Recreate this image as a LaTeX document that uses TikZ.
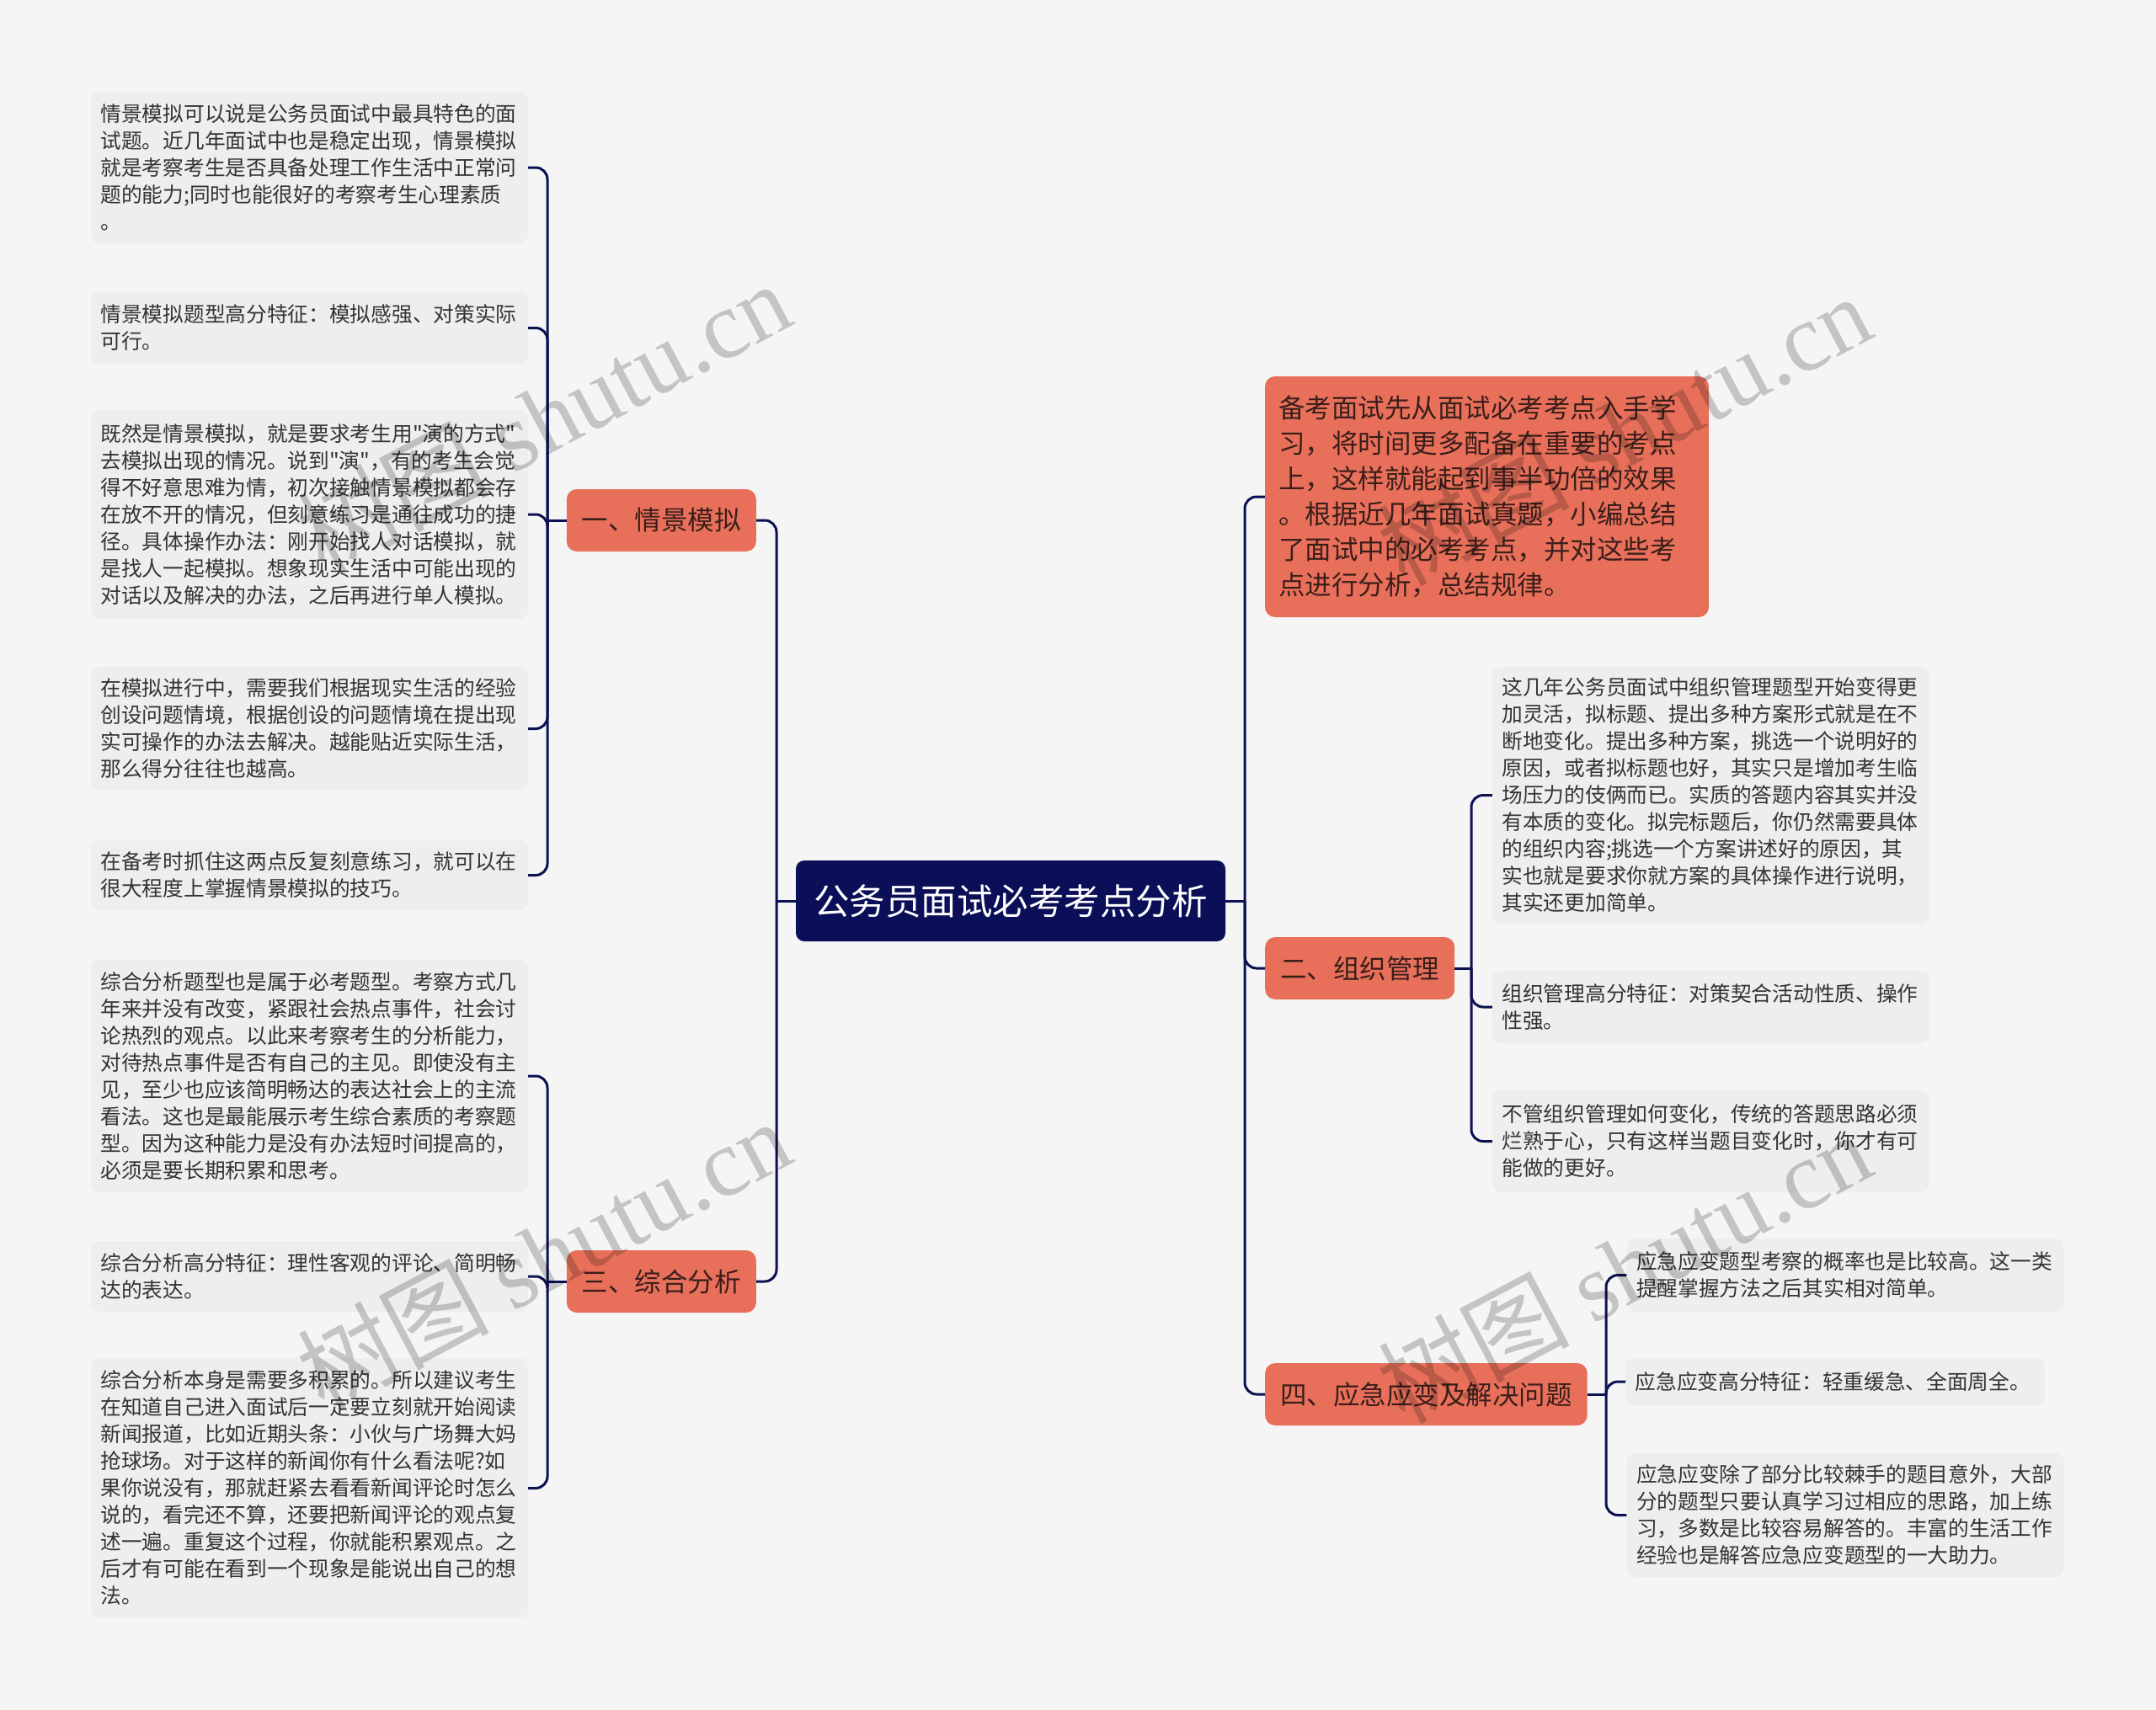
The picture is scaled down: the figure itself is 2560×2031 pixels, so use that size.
\documentclass[tikz,border=0pt]{standalone}
\usepackage{fontspec}
\setmainfont{Noto Sans CJK SC}[Ligatures=TeXOff]
\newfontfamily\wmlatin{Liberation Serif}
\definecolor{bgc}{HTML}{F5F5F5}
\definecolor{leafc}{HTML}{EEEEEE}
\definecolor{salmon}{HTML}{E8705B}
\definecolor{navy}{HTML}{0A0F58}
\definecolor{linec}{HTML}{0B1152}
\definecolor{txtc}{HTML}{333333}
\definecolor{saltxt}{HTML}{3A1E1A}
\tikzset{
  leafbox/.style={rectangle, rounded corners=10pt, fill=leafc, text=txtc, align=left,
    text width=496pt, inner xsep=11.5pt, inner ysep=0pt, font=\fontsize{24.7}{32}\selectfont},
  catbox/.style={rectangle, rounded corners=12pt, fill=salmon, text=saltxt,
    minimum height=74pt, inner xsep=18pt, inner ysep=0pt, font=\fontsize{31.5}{42}\selectfont},
  rootbox/.style={rectangle, rounded corners=10pt, fill=navy, text=white,
    minimum width=510pt, minimum height=96pt, font=\fontsize{42.5}{50}\selectfont},
  conn/.style={draw=linec, line width=3pt, rounded corners=14pt},
  wmark/.style={rotate=28, text=black, opacity=0.2, font=\fontsize{114}{120}\selectfont}
}
\begin{document}
\begin{tikzpicture}[x=1pt, y=-1pt]
\fill[bgc] (0,0) rectangle (2560,2031);
\useasboundingbox (0,0) rectangle (2560,2031);

% root
\node[rootbox] (root) at (1200,1070) {公务员面试必考考点分析};

% level 1
\node[catbox, anchor=east] (c1) at (898,618) {一、情景模拟};
\node[catbox, anchor=east] (c3) at (898,1522) {三、综合分析};
\node[catbox, anchor=west] (c2) at (1502,1150) {二、组织管理};
\node[catbox, anchor=west] (c4) at (1502,1656) {四、应急应变及解决问题};
\node[rectangle, rounded corners=12pt, fill=salmon, text=saltxt, align=left,
  text width=495pt, inner xsep=16pt, inner ysep=0pt, minimum height=286pt,
  font=\fontsize{31.5}{42}\selectfont] (sal) at (1765.5,590) {备考面试先从面试必考考点入手学\\习，将时间更多配备在重要的考点\\上，这样就能起到事半功倍的效果\\。根据近几年面试真题，小编总结\\了面试中的必考考点，并对这些考\\点进行分析，总结规律。};

% left leaves of 一
\node[leafbox, minimum height=180pt] (l1) at (367.5,199) {情景模拟可以说是公务员面试中最具特色的面\\试题。近几年面试中也是稳定出现，情景模拟\\就是考察考生是否具备处理工作生活中正常问\\题的能力;同时也能很好的考察考生心理素质\\。};
\node[leafbox, minimum height=87pt] (l2) at (367.5,389.5) {情景模拟题型高分特征：模拟感强、对策实际\\可行。};
\node[leafbox, minimum height=248pt] (l3) at (367.5,611) {既然是情景模拟，就是要求考生用"演的方式"\\去模拟出现的情况。说到"演"，有的考生会觉\\得不好意思难为情，初次接触情景模拟都会存\\在放不开的情况，但刻意练习是通往成功的捷\\径。具体操作办法：刚开始找人对话模拟，就\\是找人一起模拟。想象现实生活中可能出现的\\对话以及解决的办法，之后再进行单人模拟。};
\node[leafbox, minimum height=147pt] (l4) at (367.5,865.5) {在模拟进行中，需要我们根据现实生活的经验\\创设问题情境，根据创设的问题情境在提出现\\实可操作的办法去解决。越能贴近实际生活，\\那么得分往往也越高。};
\node[leafbox, minimum height=83pt] (l5) at (367.5,1039.5) {在备考时抓住这两点反复刻意练习，就可以在\\很大程度上掌握情景模拟的技巧。};

% left leaves of 三
\node[leafbox, minimum height=276pt] (l6) at (367.5,1278) {综合分析题型也是属于必考题型。考察方式几\\年来并没有改变，紧跟社会热点事件，社会讨\\论热烈的观点。以此来考察考生的分析能力，\\对待热点事件是否有自己的主见。即使没有主\\见，至少也应该简明畅达的表达社会上的主流\\看法。这也是最能展示考生综合素质的考察题\\型。因为这种能力是没有办法短时间提高的，\\必须是要长期积累和思考。};
\node[leafbox, minimum height=84pt] (l7) at (367.5,1516) {综合分析高分特征：理性客观的评论、简明畅\\达的表达。};
\node[leafbox, minimum height=309pt] (l8) at (367.5,1767.5) {综合分析本身是需要多积累的。所以建议考生\\在知道自己进入面试后一定要立刻就开始阅读\\新闻报道，比如近期头条：小伙与广场舞大妈\\抢球场。对于这样的新闻你有什么看法呢?如\\果你说没有，那就赶紧去看看新闻评论时怎么\\说的，看完还不算，还要把新闻评论的观点复\\述一遍。重复这个过程，你就能积累观点。之\\后才有可能在看到一个现象是能说出自己的想\\法。};

% right leaves of 二
\node[leafbox, minimum height=305pt] (r1) at (2031.5,944.5) {这几年公务员面试中组织管理题型开始变得更\\加灵活，拟标题、提出多种方案形式就是在不\\断地变化。提出多种方案，挑选一个说明好的\\原因，或者拟标题也好，其实只是增加考生临\\场压力的伎俩而已。实质的答题内容其实并没\\有本质的变化。拟完标题后，你仍然需要具体\\的组织内容;挑选一个方案讲述好的原因，其\\实也就是要求你就方案的具体操作进行说明，\\其实还更加简单。};
\node[leafbox, minimum height=86pt] (r2) at (2031.5,1196) {组织管理高分特征：对策契合活动性质、操作\\性强。};
\node[leafbox, minimum height=121pt] (r3) at (2031.5,1355.5) {不管组织管理如何变化，传统的答题思路必须\\烂熟于心，只有这样当题目变化时，你才有可\\能做的更好。};

% right leaves of 四
\node[leafbox, minimum height=87pt] (r4) at (2191,1514.5) {应急应变题型考察的概率也是比较高。这一类\\提醒掌握方法之后其实相对简单。};
\node[leafbox, text width=475pt, minimum height=56pt, anchor=west] (r5) at (1930,1641) {应急应变高分特征：轻重缓急、全面周全。};
\node[leafbox, minimum height=147pt] (r6) at (2191,1799.5) {应急应变除了部分比较棘手的题目意外，大部\\分的题型只要认真学习过相应的思路，加上练\\习，多数是比较容易解答的。丰富的生活工作\\经验也是解答应急应变题型的一大助力。};

% connectors
\coordinate (jL) at (922,1070);
\coordinate (jR) at (1478,1070);
\coordinate (j1) at (650,618);
\coordinate (j3) at (650,1522);
\coordinate (j2) at (1747,1150);
\coordinate (j4) at (1907,1656);

\draw[conn] (root.west) -- (jL);
\draw[conn] (jL) |- (c1.east);
\draw[conn] (jL) |- (c3.east);
\draw[conn] (root.east) -- (jR);
\draw[conn] (jR) |- (sal.west);
\draw[conn] (jR) |- (c2.west);
\draw[conn] (jR) |- (c4.west);

\draw[conn] (c1.west) -- (j1);
\foreach \n in {l1,l2,l3,l4,l5} { \draw[conn] (j1) |- (\n.east); }
\draw[conn] (c3.west) -- (j3);
\foreach \n in {l6,l7,l8} { \draw[conn] (j3) |- (\n.east); }
\draw[conn] (c2.east) -- (j2);
\foreach \n in {r1,r2,r3} { \draw[conn] (j2) |- (\n.west); }
\draw[conn] (c4.east) -- (j4);
\foreach \n in {r4,r5,r6} { \draw[conn] (j4) |- (\n.west); }

% watermarks
\node[wmark] (w1) at (645,495) {树图 {\wmlatin shutu.cn}};
\node[wmark] (w2) at (1928,510) {树图 {\wmlatin shutu.cn}};
\node[wmark] (w3) at (645,1490) {树图 {\wmlatin shutu.cn}};
\node[wmark] (w4) at (1928,1505) {树图 {\wmlatin shutu.cn}};
\end{tikzpicture}
\end{document}
